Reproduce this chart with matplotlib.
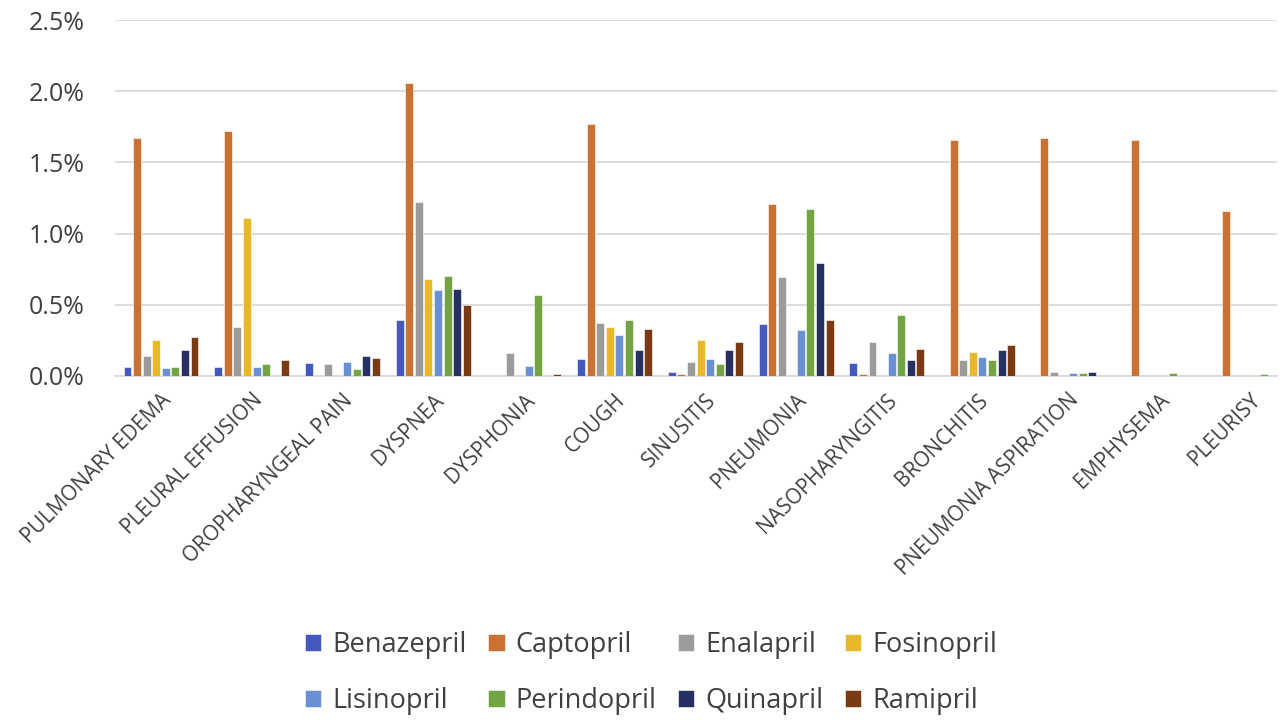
import numpy as np
import matplotlib.pyplot as plt
from matplotlib.ticker import PercentFormatter

# Data (percent)
categories = ['PULMONARY EDEMA', 'PLEURAL EFFUSION', 'OROPHARYNGEAL PAIN', 'DYSPNEA',
              'DYSPHONIA', 'COUGH', 'SINUSITIS', 'PNEUMONIA', 'NASOPHARYNGITIS',
              'BRONCHITIS', 'PNEUMONIA ASPIRATION', 'EMPHYSEMA', 'PLEURISY']
drugs = ['Benazepril', 'Captopril', 'Enalapril', 'Fosinopril',
         'Lisinopril', 'Perindopril', 'Quinapril', 'Ramipril']

benazepril = [0.06, 0.06, 0.09, 0.39, 0.0, 0.12, 0.03, 0.365, 0.09, 0.0, 0.0, 0.0, 0.0]
captopril = [1.67, 1.72, 0.0, 2.06, 0.0, 1.77, 0.01, 1.205, 0.01, 1.66, 1.67, 1.66, 1.16]
enalapril = [0.14, 0.345, 0.085, 1.22, 0.16, 0.37, 0.095, 0.695, 0.24, 0.11, 0.025, 0.0, 0.0]
fosinopril = [0.255, 1.11, 0.0, 0.68, 0.0, 0.34, 0.255, 0.0, 0.0, 0.17, 0.0, 0.0, 0.0]
lisinopril = [0.055, 0.065, 0.095, 0.605, 0.07, 0.285, 0.12, 0.325, 0.16, 0.135, 0.02, 0.0, 0.0]
perindopril = [0.065, 0.08, 0.045, 0.70, 0.57, 0.395, 0.085, 1.17, 0.43, 0.11, 0.02, 0.02, 0.01]
quinapril = [0.18, 0.0, 0.14, 0.61, 0.0, 0.18, 0.18, 0.795, 0.11, 0.18, 0.03, 0.0, 0.0]
ramipril = [0.275, 0.11, 0.125, 0.495, 0.01, 0.33, 0.24, 0.395, 0.19, 0.22, 0.0, 0.0, 0.0]

series = [benazepril, captopril, enalapril, fosinopril, lisinopril, perindopril, quinapril, ramipril]
colors = ['#4558BD', '#CB7133', '#9B9B9B', '#E8B82A', '#6A8FD2', '#73A443', '#263062', '#7A3A14']

plt.rcParams['font.family'] = ['Open Sans', 'DejaVu Sans']

fig, ax = plt.subplots(figsize=(12.84, 7.2), dpi=100)
fig.subplots_adjust(left=115 / 1284, right=1277 / 1284, top=0.972, bottom=0.478)

x = np.arange(len(categories))
slot = 0.1055
bars = []
for i, (vals, name, col) in enumerate(zip(series, drugs, colors)):
    b = ax.bar(x + (i - 3.5) * slot, vals, width=0.088, color=col,
               edgecolor='white', linewidth=0.4, label=name, zorder=3)
    bars.append(b)

ax.set_ylim(0, 2.5)
ax.set_xlim(-0.507, 12.30)
ax.set_yticks(np.arange(0, 2.51, 0.5))
ax.yaxis.set_major_formatter(PercentFormatter(decimals=1))
ax.grid(axis='y', color='#d9d9d9', linewidth=1.3, zorder=0)
for s in ['top', 'right', 'left']:
    ax.spines[s].set_visible(False)
ax.spines['bottom'].set_color('#d9d9d9')
ax.spines['bottom'].set_linewidth(1.3)
ax.tick_params(axis='both', length=0, colors='#404040')
ax.tick_params(axis='y', labelsize=18, pad=22)
ax.set_xticks(x)
ax.set_xticklabels(categories, rotation=45, ha='right', rotation_mode='anchor',
                   fontsize=15, color='#404040')
ax.tick_params(axis='x', pad=10)

# row-major legend order
order = [0, 4, 1, 5, 2, 6, 3, 7]
fig.legend([bars[k] for k in order], [drugs[k] for k in order],
           loc='center', bbox_to_anchor=(0.507, 0.065), ncol=4, frameon=False,
           fontsize=19.5, handlelength=0.6, handleheight=0.6, columnspacing=0.8,
           labelspacing=1.05, handletextpad=0.4, labelcolor='#404040')

plt.savefig('out.png')
